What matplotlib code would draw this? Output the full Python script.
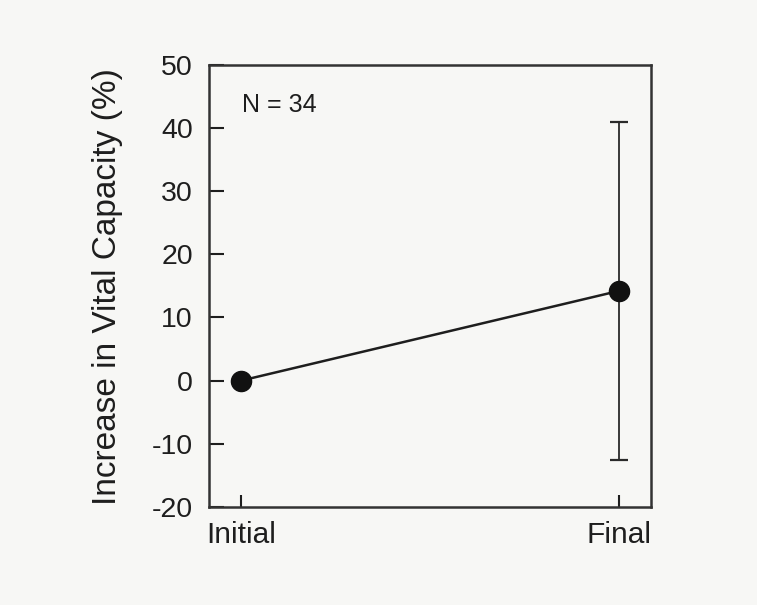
import matplotlib
matplotlib.use('Agg')
import matplotlib.pyplot as plt

plt.rcParams['font.family'] = ['Liberation Sans', 'DejaVu Sans']
plt.rcParams['axes.unicode_minus'] = False

stages = ['Initial', 'Final']
increase = [0, 14.2]
err = [0, 26.8]

ink = '#1e1e1e'
bg = '#f7f7f5'

fig = plt.figure(figsize=(7.57, 6.05), dpi=100, facecolor=bg)
ax = fig.add_axes([0.276, 0.162, 0.584, 0.731], facecolor=bg)

x = range(len(stages))
ax.plot(x, increase, color=ink, lw=1.8, zorder=2)
ax.errorbar(x[1:], increase[1:], yerr=err[1:], fmt='none', ecolor='#2a2a2a',
            elinewidth=1.3, capsize=6.5, capthick=1.6, zorder=1)
ax.plot(x, increase, 'o', color='#111111', ms=14.5, zorder=3)

ax.set_xlim(-0.085, 1.085)
ax.set_ylim(-20, 50)
ax.set_xticks(list(x))
ax.set_xticklabels(stages)
ax.set_yticks(range(-20, 51, 10))
ax.tick_params(axis='y', direction='in', length=11, width=1.5, labelsize=20.5,
               colors=ink, pad=11.5)
ax.tick_params(axis='x', direction='in', length=9, width=1.5, labelsize=21.5,
               colors=ink, pad=10)
for s in ax.spines.values():
    s.set_linewidth(1.8)
    s.set_color('#333333')

fig.text(108 / 757, 1 - 287 / 605, 'Increase in Vital Capacity (%)',
         rotation=90, ha='center', va='center', fontsize=24, color=ink)
ax.text(0.075, 0.908, 'N = 34', transform=ax.transAxes, fontsize=18,
        color=ink, va='center', ha='left')

fig.savefig('out.png', dpi=100, facecolor=bg)
